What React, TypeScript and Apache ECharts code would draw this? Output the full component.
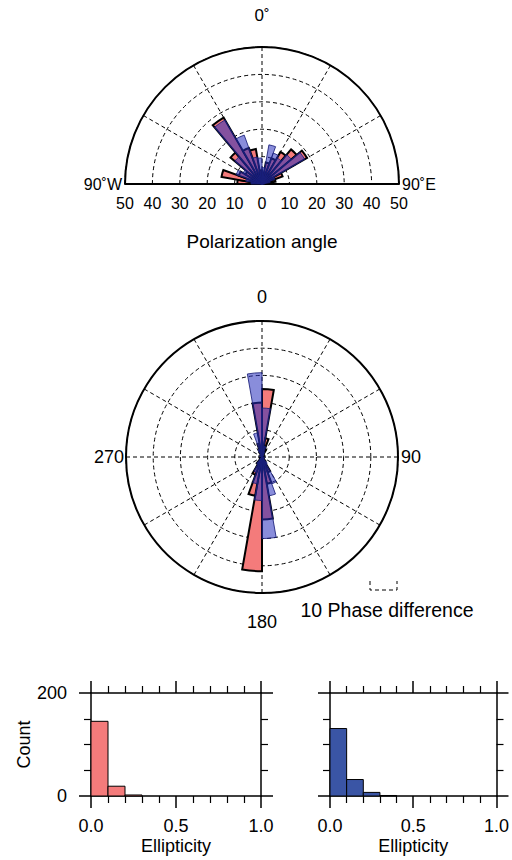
import React, { useEffect, useRef } from "react";
import * as echarts from "echarts";

// ---------- data ----------
// Polarization angle rose (10 degree bins, start of bin)
const POL_BIN_START = [-90, -80, -70, -60, -50, -40, -30, -20, -10, 0, 10, 20, 30, 40, 50, 60, 70, 80];
const POL_RED = [9, 15, 9, 7, 15, 28, 14, 13, 5, 3, 8, 10, 13.5, 16.5, 19, 8, 5, 2];
const POL_BLUE = [4, 6, 10, 8, 13, 27, 19, 10, 9.5, 6, 14.5, 12, 11, 14, 18, 5, 3, 1];

// Phase difference rose (10 degree bins, start of bin)
const PHASE_BIN_START = [
  0, 10, 20, 30, 40, 50, 60, 70, 80, 90, 100, 110, 120, 130, 140, 150, 160, 170,
  180, 190, 200, 210, 220, 230, 240, 250, 260, 270, 280, 290, 300, 310, 320, 330, 340, 350,
];
const PHASE_RED = [
  25, 7, 3, 1, 0, 0, 0, 0, 1, 0, 0, 0, 0, 0, 2, 6, 10, 23,
  42, 14.5, 7, 3, 1, 0, 0, 0, 0, 1, 0, 0, 0, 0, 0, 2, 5, 20,
];
const PHASE_BLUE = [
  18, 4, 2, 1, 0, 0, 0, 0, 0, 1, 0, 0, 0, 1, 3, 10.5, 14.5, 30,
  16, 10, 6, 3, 1, 0, 0, 0, 0, 0, 1, 0, 0, 0, 1, 3, 9, 31,
];
const ROSE_BIN_WIDTH = 10;

// Ellipticity histograms
const ELL_BIN_START = [0, 0.1, 0.2, 0.3, 0.4, 0.5, 0.6, 0.7, 0.8, 0.9];
const ELL_BIN_WIDTH = 0.1;
const ELL_RED = [145, 19, 2, 0, 0, 0, 0, 0, 0, 0];
const ELL_BLUE = [131, 32, 7, 1, 0, 0, 0, 0, 0, 0];

const RADIAL_TICKS_MAX = 50;

// ---------- styles ----------
const FONT = "Liberation Sans, Arial, Helvetica, sans-serif";
const RED_FILL = "#f47b7b";
const BLUE_HIST = "#3a55a5";
const BLUE_ROSE = "rgba(40,48,190,0.55)";
const BLUE_ROSE_STROKE = "rgba(25,30,120,0.85)";
const DASH = [4, 3];

function roseRender(fill: string, stroke: string, lw: number) {
  return (params: any, api: any) => {
    const r = api.value(0);
    if (!(r > 0)) return null;
    const a0 = api.value(1);
    const a1 = api.value(2);
    const cs = params.coordSys;
    const p0 = api.coord([r, a0]);
    const p1 = api.coord([r, a1]);
    const rr = Math.hypot(p0[0] - cs.cx, p0[1] - cs.cy);
    let s = Math.atan2(p0[1] - cs.cy, p0[0] - cs.cx);
    const e0 = Math.atan2(p1[1] - cs.cy, p1[0] - cs.cx);
    let d = e0 - s;
    while (d <= -Math.PI) d += Math.PI * 2;
    while (d > Math.PI) d -= Math.PI * 2;
    if (d < 0) {
      s = s + d;
      d = -d;
    }
    return {
      type: "sector",
      shape: { cx: cs.cx, cy: cs.cy, r0: 0, r: rr, startAngle: s, endAngle: s + d, clockwise: true },
      style: { fill, stroke, lineWidth: lw, lineJoin: "miter" },
    };
  };
}

function histRender(fill: string) {
  return (params: any, api: any) => {
    const x0 = api.value(0);
    const x1 = api.value(1);
    const c = api.value(2);
    if (!(c > 0)) return null;
    const p0 = api.coord([x0, 0]);
    const p1 = api.coord([x1, c]);
    return {
      type: "rect",
      shape: { x: p0[0], y: p1[1], width: p1[0] - p0[0], height: p0[1] - p1[1] },
      style: { fill, stroke: "#000", lineWidth: 1 },
    };
  };
}

function histXAxis(gridIndex: number, position: string, labels: boolean, name?: string) {
  return {
    type: "value",
    gridIndex,
    position,
    min: 0,
    max: 1,
    interval: 0.5,
    name: name || "",
    nameLocation: "middle",
    nameGap: 41,
    nameTextStyle: { fontSize: 18, fontFamily: FONT, color: "#000" },
    axisLine: { show: true, onZero: false, lineStyle: { color: "#000", width: 1.5 } },
    axisTick: { show: true, inside: false, length: 12, lineStyle: { color: "#000", width: 1.5 } },
    minorTick: { show: true, splitNumber: 5, length: 7, lineStyle: { color: "#000", width: 1.2 } },
    splitLine: { show: false },
    minorSplitLine: { show: false },
    axisLabel: {
      show: labels,
      margin: 21,
      fontSize: 18,
      fontFamily: FONT,
      color: "#000",
      formatter: (v: number) => v.toFixed(1),
    },
  };
}

function histYAxis(gridIndex: number, position: string, labels: boolean, name?: string) {
  return {
    type: "value",
    gridIndex,
    position,
    min: 0,
    max: 200,
    interval: 200,
    name: name || "",
    nameLocation: "middle",
    nameGap: 54,
    nameRotate: 90,
    nameTextStyle: { fontSize: 18, fontFamily: FONT, color: "#000" },
    axisLine: { show: true, onZero: false, lineStyle: { color: "#000", width: 1.5 } },
    axisTick: { show: true, inside: false, length: 12, lineStyle: { color: "#000", width: 1.5 } },
    minorTick: { show: true, splitNumber: 4, length: 7, lineStyle: { color: "#000", width: 1.2 } },
    splitLine: { show: false },
    minorSplitLine: { show: false },
    axisLabel: { show: labels, margin: 24, fontSize: 18, fontFamily: FONT, color: "#000" },
  };
}

function txt(text: string, x: number, y: number, size: number, align = "center") {
  return {
    type: "text",
    x,
    y,
    style: {
      text,
      fontSize: size,
      fontFamily: FONT,
      fill: "#000",
      align,
      verticalAlign: "middle",
      textAlign: align,
      textVerticalAlign: "middle",
    },
  };
}

export default function App() {
  const ref = useRef<HTMLDivElement>(null);

  useEffect(() => {
    document.body.style.margin = "0";
    if (!ref.current) return;
    const chart = echarts.init(ref.current, null, { renderer: "svg" });

    const polarAngleCommon = {
      axisTick: { show: false },
      axisLabel: { show: false },
      axisLine: { show: true, lineStyle: { color: "#000", width: 2 } },
      splitLine: { show: true, lineStyle: { color: "#000", width: 1, type: DASH } },
    };
    const radiusCommon = {
      type: "value",
      min: 0,
      max: RADIAL_TICKS_MAX,
      interval: 10,
      axisLine: { show: false },
      axisTick: { show: false },
      axisLabel: { show: false },
      splitLine: { show: true, lineStyle: { color: "#000", width: 1, type: DASH } },
    };

    const option: any = {
      animation: false,
      textStyle: { fontFamily: FONT },
      polar: [
        { center: [262, 184], radius: 137 },
        { center: [262, 457], radius: 136 },
      ],
      angleAxis: [
        {
          polarIndex: 0,
          type: "value",
          min: -90,
          max: 90,
          interval: 30,
          startAngle: 180,
          endAngle: 0,
          clockwise: true,
          ...polarAngleCommon,
        },
        {
          polarIndex: 1,
          type: "value",
          min: 0,
          max: 360,
          interval: 30,
          startAngle: 90,
          clockwise: true,
          ...polarAngleCommon,
        },
      ],
      radiusAxis: [
        { polarIndex: 0, ...radiusCommon },
        { polarIndex: 1, ...radiusCommon },
      ],
      grid: [
        { left: 125, top: 100, width: 274, height: 84, show: false },
        { left: 91, top: 693, width: 170, height: 103 },
        { left: 330, top: 693, width: 169, height: 103 },
      ],
      xAxis: [
        {
          type: "value",
          gridIndex: 0,
          min: -RADIAL_TICKS_MAX,
          max: RADIAL_TICKS_MAX,
          interval: 10,
          axisLine: { show: true, onZero: false, lineStyle: { color: "#000", width: 2 } },
          axisTick: { show: false },
          splitLine: { show: false },
          axisLabel: {
            margin: 11,
            fontSize: 16,
            fontFamily: FONT,
            color: "#000",
            formatter: (v: number) => String(Math.abs(v)),
          },
        },
        histXAxis(1, "bottom", true, "Ellipticity"),
        histXAxis(1, "top", false),
        histXAxis(2, "bottom", true, "Ellipticity"),
        histXAxis(2, "top", false),
      ],
      yAxis: [
        { type: "value", gridIndex: 0, min: 0, max: 1, show: false },
        histYAxis(1, "left", true, "Count"),
        histYAxis(1, "right", false),
        histYAxis(2, "left", false),
        histYAxis(2, "right", false),
      ],
      series: [
        {
          type: "custom",
          coordinateSystem: "polar",
          polarIndex: 0,
          encode: { radius: 0, angle: 1 },
          renderItem: roseRender(RED_FILL, "#000", 2),
          data: POL_BIN_START.map((a, i) => [POL_RED[i], a, a + ROSE_BIN_WIDTH]),
          z: 3,
        },
        {
          type: "custom",
          coordinateSystem: "polar",
          polarIndex: 0,
          encode: { radius: 0, angle: 1 },
          renderItem: roseRender(BLUE_ROSE, BLUE_ROSE_STROKE, 1),
          data: POL_BIN_START.map((a, i) => [POL_BLUE[i], a, a + ROSE_BIN_WIDTH]),
          z: 4,
        },
        {
          type: "custom",
          coordinateSystem: "polar",
          polarIndex: 1,
          encode: { radius: 0, angle: 1 },
          renderItem: roseRender(RED_FILL, "#000", 2),
          data: PHASE_BIN_START.map((a, i) => [PHASE_RED[i], a, a + ROSE_BIN_WIDTH]),
          z: 3,
        },
        {
          type: "custom",
          coordinateSystem: "polar",
          polarIndex: 1,
          encode: { radius: 0, angle: 1 },
          renderItem: roseRender(BLUE_ROSE, BLUE_ROSE_STROKE, 1),
          data: PHASE_BIN_START.map((a, i) => [PHASE_BLUE[i], a, a + ROSE_BIN_WIDTH]),
          z: 4,
        },
        {
          type: "custom",
          xAxisIndex: 1,
          yAxisIndex: 1,
          encode: { x: [0, 1], y: 2 },
          renderItem: histRender(RED_FILL),
          data: ELL_BIN_START.map((b, i) => [b, b + ELL_BIN_WIDTH, ELL_RED[i]]),
        },
        {
          type: "custom",
          xAxisIndex: 3,
          yAxisIndex: 3,
          encode: { x: [0, 1], y: 2 },
          renderItem: histRender(BLUE_HIST),
          data: ELL_BIN_START.map((b, i) => [b, b + ELL_BIN_WIDTH, ELL_BLUE[i]]),
        },
      ],
      graphic: [
        txt("0˚", 262, 15, 17),
        txt("90˚W", 122, 184, 16, "right"),
        txt("90˚E", 402, 184, 16, "left"),
        txt("Polarization angle", 262, 241, 19),
        txt("0", 262, 297, 18),
        txt("90", 401, 457, 18, "left"),
        txt("180", 262, 622, 18),
        txt("270", 124, 457, 18, "right"),
        {
          type: "polyline",
          shape: { points: [[370, 581], [370, 590], [397, 590], [397, 581]] },
          style: { stroke: "#000", lineWidth: 1, fill: null, lineDash: DASH },
        },
        txt("10 Phase difference", 387, 610, 19.5),
      ],
    };

    chart.setOption(option);
    return () => chart.dispose();
  }, []);

  return (
    <div
      ref={ref}
      style={{ position: "absolute", left: 0, top: 0, width: 512, height: 860 }}
    />
  );
}
